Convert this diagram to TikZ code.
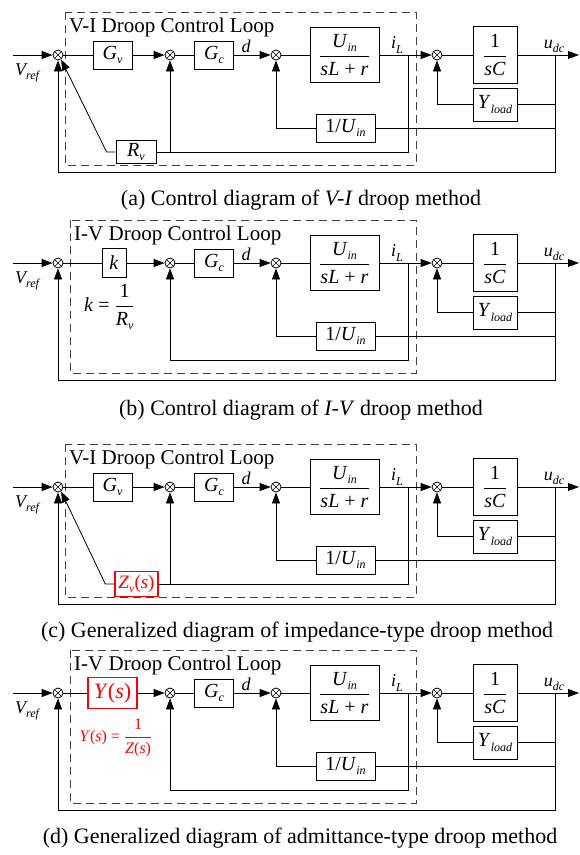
\documentclass[tikz,border=0pt]{standalone}
\usepackage{fontspec}
\setmainfont{Liberation Serif}
\usetikzlibrary{arrows.meta,positioning,calc}

\newcommand{\lsub}[1]{\raisebox{-0.5ex}{\fontsize{12}{12}\selectfont\textit{#1}}}
\newcommand{\frc}[2]{$\displaystyle\frac{\mbox{#1}}{\mbox{#2}}$}

\begin{document}
\begin{tikzpicture}[x=1pt, y=-1pt,
    blk/.style={draw, line width=0.8pt, inner sep=1pt, font=\fontsize{20}{22}\selectfont},
    sumj/.style={circle, draw, line width=0.8pt, minimum size=10pt, inner sep=0pt,
      path picture={\draw[line width=0.6pt] (path picture bounding box.north west) -- (path picture bounding box.south east)
        (path picture bounding box.north east) -- (path picture bounding box.south west);}},
    sig/.style={-{Triangle[length=11pt, width=8pt]}, line width=0.8pt},
    wire/.style={line width=0.8pt},
    loopbox/.style={draw=black!75, dash pattern=on 8pt off 5pt, line width=0.8pt},
    txt/.style={font=\fontsize{21}{23}\selectfont, inner sep=0pt},
    captxt/.style={font=\fontsize{22}{24}\selectfont, inner sep=0pt},
    lbl/.style={font=\fontsize{18}{20}\selectfont\itshape, inner sep=0pt}
  ]
  \useasboundingbox (0,0) rectangle (579,855);

  \foreach \p/\y/\xl/\ttl in {a/55/65/V-I, b/263/70/I-V, c/487/65/V-I, d/693/70/I-V} {
    % loop frame
    \draw[loopbox] (\xl,\y-43) rectangle (416,\y+110);
    \node[txt, anchor=west] (ttl\p) at (\xl+4,\y-28) {\ttl\ Droop Control Loop};
    % forward path
    \coordinate (in\p) at (13,\y);
    \node[sumj] (s1\p) at (58,\y) {};
    \node[sumj] (s2\p) at (170,\y) {};
    \node[blk, minimum width=39pt, minimum height=28pt] (gc\p) at (214,\y) {\textit{G}\lsub{c}};
    \node[sumj] (s3\p) at (276,\y) {};
    \node[blk, minimum width=69pt, minimum height=55pt] (pl\p) at (344.5,\y) {\frc{\textit{U}\lsub{in}}{\textit{sL} + \textit{r}}};
    \coordinate (tp\p) at (408,\y);
    \node[sumj] (s4\p) at (437,\y) {};
    \node[blk, minimum width=44pt, minimum height=57pt] (cs\p) at (495,\y) {\frc{1}{\textit{sC}}};
    \coordinate (to\p) at (555,\y);
    \coordinate (out\p) at (579,\y);
    \node[blk, minimum width=44pt, minimum height=33pt] (yl\p) at (495,\y+49.5) {\textit{Y}\lsub{load}};
    \node[blk, minimum width=59pt, minimum height=28pt] (iu\p) at (345.5,\y+73) {1/\textit{U}\lsub{in}};
    % labels
    \node[lbl] (vr\p) at (27,\y+18) {V\lsub{ref}};
    \node[lbl] (dl\p) at (246,\y-9) {d};
    \node[lbl] (il\p) at (397,\y-10) {i\lsub{L}};
    \node[lbl] (ud\p) at (554,\y-9) {u\lsub{dc}};
    % connectors
    \draw[sig] (in\p) -- (s1\p);
    \draw[wire] (s2\p) -- (gc\p);
    \draw[sig] (gc\p) -- (s3\p);
    \draw[wire] (s3\p) -- (pl\p);
    \draw[sig] (pl\p) -- (s4\p);
    \draw[wire] (s4\p) -- (cs\p);
    \draw[sig] (cs\p) -- (out\p);
    \draw[sig] (to\p) -- (555,\y+117) -| (s1\p);
    \draw[wire] (555,\y+49.5) -- (yl\p);
    \draw[sig] (yl\p) -| (s4\p);
    \draw[wire] (555,\y+73) -- (iu\p);
    \draw[sig] (iu\p) -| (s3\p);
    \draw[sig] (tp\p) -- (408,\y+97) -| (s2\p);
  }

  % (a) V-I droop
  \node[blk, minimum width=39pt, minimum height=28pt] (gva) at (112.5,55) {\textit{G}\lsub{v}};
  \node[blk, minimum width=40pt, minimum height=23pt] (rva) at (136,152) {\textit{R}\lsub{v}};
  \draw[wire] (s1a) -- (gva);
  \draw[sig] (gva) -- (s2a);
  \draw[wire] (170,152) -- (rva);
  \draw[sig] (rva.west) -- ++(-9,0) -- (s1a.-55);

  % (b) I-V droop
  \node[blk, minimum width=24pt, minimum height=29pt] (kb) at (114,263) {\textit{k}};
  \node[txt, anchor=west, font=\fontsize{20}{22}\selectfont] (kdef) at (84,307) {\textit{k} = \frc{1}{\textit{R}\lsub{v}}};
  \draw[wire] (s1b) -- (kb);
  \draw[sig] (kb) -- (s2b);

  % (c) impedance type
  \node[blk, draw=red, text=red, line width=1.4pt, minimum width=43pt, minimum height=25pt,
    font=\fontsize{19}{21}\selectfont] (zvc) at (136.5,584) {\textit{Z}\lsub{v}(\textit{s})};
  \node[blk, minimum width=39pt, minimum height=28pt] (gvc) at (112.5,487) {\textit{G}\lsub{v}};
  \draw[wire] (s1c) -- (gvc);
  \draw[sig] (gvc) -- (s2c);
  \draw[wire] (170,584) -- (zvc);
  \draw[sig] (zvc.west) -- ++(-9,0) -- (s1c.-55);

  % (d) admittance type
  \node[blk, draw=red, text=red, line width=1.4pt, minimum width=49pt, minimum height=31pt,
    font=\fontsize{22}{24}\selectfont] (ysd) at (112.5,693) {\textit{Y}(\textit{s})};
  \node[txt, text=red, font=\fontsize{16}{18}\selectfont] (ydef) at (116,738) {\textit{Y}(\textit{s}) = \frc{1}{\textit{Z}(\textit{s})}};
  \draw[wire] (s1d) -- (ysd);
  \draw[sig] (ysd) -- (s2d);

  % captions
  \node[captxt] (capa) at (301,200) {(a) Control diagram of \textit{V-I} droop method};
  \node[captxt] (capb) at (301,410) {(b) Control diagram of \textit{I-V} droop method};
  \node[captxt] (capc) at (297,632) {(c) Generalized diagram of impedance-type droop method};
  \node[captxt] (capd) at (300,838) {(d) Generalized diagram of admittance-type droop method};
\end{tikzpicture}
\end{document}
